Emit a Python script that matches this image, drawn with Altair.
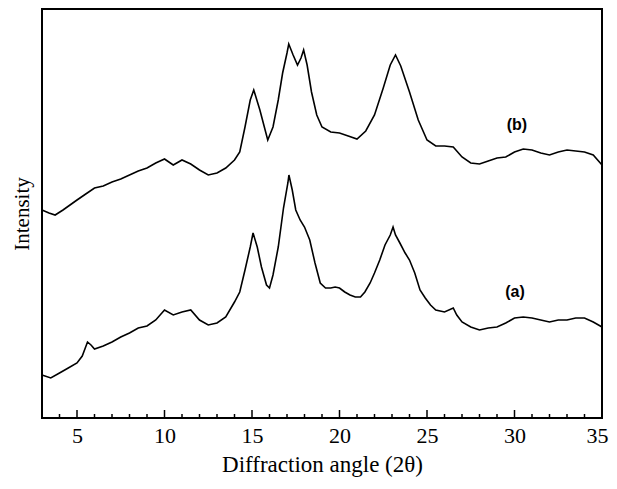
import altair as alt
import pandas as pd

# 2-theta positions and intensities (arbitrary units)
x_b = [3, 3.4, 3.75, 4.2, 4.6, 5, 5.5, 6, 6.5, 7, 7.5, 8, 8.5, 9, 9.5, 10, 10.5, 11, 11.5,
       12, 12.5, 13, 13.5, 14, 14.3, 14.6, 14.9, 15.1, 15.45, 15.75, 15.9, 16.2, 16.5,
       16.75, 17.0, 17.1, 17.35, 17.6, 17.8, 17.95, 18.15, 18.4, 18.7, 19, 19.5, 20,
       20.5, 21, 21.5, 22, 22.5, 22.9, 23.2, 23.5, 24, 24.5, 25, 25.5, 26, 26.5, 27,
       27.5, 28, 28.5, 29, 29.5, 30, 30.5, 31, 31.5, 32, 32.5, 33, 33.5, 34, 34.5, 35]
py_b = [210, 213, 215, 210, 205, 200, 194, 188, 186, 182, 179, 175, 171, 168, 163, 159, 165, 160, 164,
        170, 175, 173, 168, 160, 152, 127, 100, 90, 110, 130, 140, 127, 100,
        73, 53, 44, 55, 65, 58, 50, 65, 92, 115, 127, 132, 133,
        136, 139, 131, 115, 88, 65, 55, 66, 92, 120, 140, 146, 146, 147, 157,
        163, 164, 161, 158, 157, 152, 149, 150, 153, 155, 152, 150, 151, 152, 155, 165]

x_a = [3, 3.5, 4, 4.5, 5, 5.3, 5.6, 5.8, 6, 6.5, 7, 7.5, 8, 8.5, 9, 9.5, 10, 10.5, 11, 11.5,
       12, 12.5, 13, 13.5, 14, 14.3, 14.6, 14.9, 15.06, 15.3, 15.54, 15.83, 16.0, 16.2,
       16.5, 16.8, 17.05, 17.11, 17.3, 17.5, 17.75, 18.0, 18.3, 18.6, 18.9, 19.2, 19.5,
       19.75, 20.0, 20.3, 20.6, 20.9, 21.2, 21.45, 21.75, 22.0, 22.3, 22.6, 22.9, 23.06,
       23.2, 23.45, 23.75, 24.0, 24.3, 24.6, 24.9, 25.2, 25.5, 26, 26.5, 26.7, 27, 27.5,
       28, 28.5, 29, 29.5, 30, 30.5, 31, 31.5, 32, 32.5, 33, 33.5, 34, 34.5, 35]
py_a = [375, 378, 373, 368, 363, 356, 342, 345, 349, 346, 342, 337, 333, 328, 326, 320, 310, 315, 312, 310,
        320, 325, 323, 317, 302, 292, 270, 247, 233, 247, 267, 285, 288, 275,
        247, 208, 183, 175, 190, 210, 220, 227, 240, 263, 283, 288, 288,
        287, 288, 292, 295, 297, 297, 292, 283, 273, 260, 245, 235, 227,
        235, 243, 253, 260, 273, 290, 298, 305, 310, 312, 308, 315, 322, 327,
        330, 328, 327, 323, 318, 317, 318, 320, 322, 320, 320, 318, 318, 322, 327]

BASE = 418
int_b = [BASE - v for v in py_b]
int_a = [BASE - v for v in py_a]

series_labels = ["(a)", "(b)"]
label_x = [30.03, 30.14]
label_y = [BASE - 292, BASE - 125]

x_tick_values = [5, 10, 15, 20, 25, 30, 35]
minor_ticks = [v for v in range(4, 35) if v % 5 != 0]
major_ticks = [5, 10, 15, 20, 25, 30]

SERIF = "Liberation Serif, Times New Roman, DejaVu Serif, serif"
H = 409

df = pd.concat([
    pd.DataFrame({"angle": x_a, "intensity": int_a, "series": "a"}),
    pd.DataFrame({"angle": x_b, "intensity": int_b, "series": "b"}),
])

xscale = alt.Scale(domain=[3, 35], nice=False, zero=False)
yscale = alt.Scale(domain=[0, H], nice=False, zero=False)

x_enc = alt.X("angle:Q", scale=xscale,
              axis=alt.Axis(values=x_tick_values, ticks=False, domain=False, grid=False,
                            labelFont=SERIF, labelFontSize=22, labelColor="black",
                            labelPadding=7, labelFlush=True, labelFlushOffset=6,
                            title="Diffraction angle (2θ)",
                            titleFont=SERIF, titleFontSize=23,
                            titleFontWeight="normal", titleColor="black", titlePadding=7))
y_enc = alt.Y("intensity:Q", scale=yscale,
              axis=alt.Axis(ticks=False, labels=False, domain=False, grid=False,
                            title="Intensity", titleFont=SERIF, titleFontSize=21,
                            titleFontWeight="normal", titleColor="black", titlePadding=10))

lines = alt.Chart(df).mark_line(strokeWidth=1.6, color="black").encode(
    x=x_enc, y=y_enc, detail="series:N")

labels = alt.Chart(pd.DataFrame({"angle": label_x, "intensity": label_y, "t": series_labels})).mark_text(
    font="Liberation Sans", fontSize=16, fontWeight="bold", color="black"
).encode(x=alt.X("angle:Q", scale=xscale), y=alt.Y("intensity:Q", scale=yscale), text="t:N")

major = alt.Chart(pd.DataFrame({"angle": major_ticks})).mark_rule(color="black", strokeWidth=1.5).encode(
    x=alt.X("angle:Q", scale=xscale), y=alt.value(H), y2=alt.value(H - 8))
minor = alt.Chart(pd.DataFrame({"angle": minor_ticks})).mark_rule(color="black", strokeWidth=1.5).encode(
    x=alt.X("angle:Q", scale=xscale), y=alt.value(H), y2=alt.value(H - 4))

chart = alt.layer(lines, labels, major, minor).properties(
    width=560, height=H,
    background="white",
    autosize=alt.AutoSizeParams(type="none"),
    padding={"left": 34, "top": 1, "right": 7, "bottom": 61},
).configure_view(stroke="black", strokeWidth=2)

chart.save("out.html", embed_options={"renderer": "svg", "actions": False})
